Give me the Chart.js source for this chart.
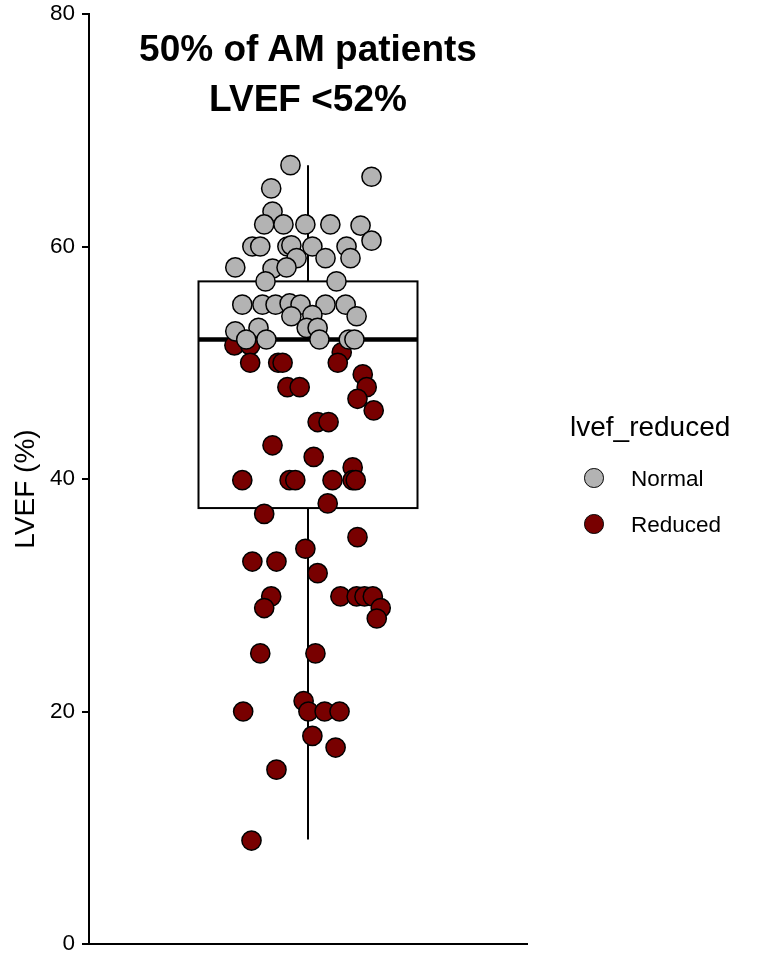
<!DOCTYPE html>
<html>
<head>
<meta charset="utf-8">
<script src="https://cdn.jsdelivr.net/npm/chart.js@4.4.1/dist/chart.umd.min.js"></script>
<style>
  html, body { margin: 0; padding: 0; background: #fff; }
  #wrap { position: relative; width: 768px; height: 960px; font-family: "Liberation Sans", Arial, sans-serif; }
  #c { position: absolute; left: 0; top: 0; }
  .title { position: absolute; left: 58px; width: 500px; text-align: center; font-weight: bold; font-size: 37px; color: #000; line-height: 1; white-space: nowrap; }
  .ytitle { position: absolute; left: -75px; top: 475px; width: 200px; height: 28px; line-height: 28px; text-align: center; font-size: 28px; color: #000; transform: rotate(-90deg); white-space: nowrap; }
  .legtitle { position: absolute; left: 570px; top: 413px; font-size: 28px; color: #000; line-height: 1; white-space: nowrap; }
  .legitem { position: absolute; left: 631px; font-size: 22.5px; color: #000; line-height: 1; white-space: nowrap; }
  .dot { position: absolute; width: 17.5px; height: 17.5px; border-radius: 50%; border: 1.5px solid #000; }
</style>
</head>
<body>
<div id="wrap">
  <canvas id="c" width="768" height="960"></canvas>
  <div class="title" style="top:29.5px;">50% of AM patients</div>
  <div class="title" style="top:79.5px;">LVEF &lt;52%</div>
  <div class="ytitle">LVEF (%)</div>
  <div class="legtitle">lvef_reduced</div>
  <div class="dot" style="left:584px; top:468px; background:#b3b3b3;"></div>
  <div class="legitem" style="top:468.3px;">Normal</div>
  <div class="dot" style="left:584px; top:514px; background:#780000;"></div>
  <div class="legitem" style="top:513.7px;">Reduced</div>
</div>
<script>
// Series: jittered x position (0..1 across the panel) and LVEF value
const normalX = [0.460,0.645,0.416,0.419,0.400,0.444,0.494,0.551,0.620,0.645,0.373,0.391,0.453,0.462,0.510,0.588,0.597,0.540,0.474,0.334,0.419,0.451,0.403,0.565,0.350,0.396,0.426,0.458,0.483,0.540,0.586,0.462,0.510,0.611,0.497,0.522,0.334,0.387,0.359,0.405,0.526,0.593,0.606];
const normalY = [67.0,66.0,65.0,63.0,61.9,61.9,61.9,61.9,61.8,60.5,60.0,60.0,60.0,60.1,60.0,60.0,59.0,59.0,59.0,58.2,58.1,58.2,57.0,57.0,55.0,55.0,55.0,55.1,55.0,55.0,55.0,54.0,54.1,54.0,53.0,53.0,52.7,53.0,52.0,52.0,52.0,52.0,52.0];
const reducedX = [0.332,0.368,0.368,0.432,0.442,0.577,0.568,0.625,0.634,0.613,0.650,0.453,0.481,0.522,0.547,0.419,0.513,0.602,0.350,0.458,0.471,0.556,0.602,0.609,0.545,0.400,0.613,0.494,0.373,0.428,0.522,0.416,0.400,0.574,0.611,0.629,0.648,0.666,0.657,0.391,0.517,0.490,0.352,0.501,0.538,0.572,0.510,0.563,0.428,0.371];
const reducedY = [51.5,51.5,50.0,50.0,50.0,50.9,50.0,49.0,47.9,46.9,45.9,47.9,47.9,44.9,44.9,42.9,41.9,41.0,39.9,39.9,39.9,39.9,39.9,39.9,37.9,37.0,35.0,34.0,32.9,32.9,31.9,29.9,28.9,29.9,29.9,29.9,29.9,28.9,28.0,25.0,25.0,20.9,20.0,20.0,20.0,20.0,17.9,16.9,15.0,8.9];
// Box plot statistics: [lower whisker, Q1, median, Q3, upper whisker]
const boxStats = [9, 37.5, 52, 57, 67];
const boxCenter = 0.5;
const boxHalfWidth = 0.25;
const yTicks = [0, 20, 40, 60, 80];

const toPts = (xs, ys) => xs.map((x, i) => ({ x: x, y: ys[i] }));

const boxPlugin = {
  id: 'boxPlot',
  beforeDatasetsDraw(chart) {
    const { ctx, scales: { x, y } } = chart;
    const [lo, q1, med, q3, hi] = boxStats;
    const xl = x.getPixelForValue(boxCenter - boxHalfWidth);
    const xr = x.getPixelForValue(boxCenter + boxHalfWidth);
    const xc = x.getPixelForValue(boxCenter);
    ctx.save();
    ctx.strokeStyle = '#000';
    ctx.lineWidth = 2;
    ctx.beginPath();
    ctx.moveTo(xc, y.getPixelForValue(hi));
    ctx.lineTo(xc, y.getPixelForValue(q3));
    ctx.moveTo(xc, y.getPixelForValue(q1));
    ctx.lineTo(xc, y.getPixelForValue(lo));
    ctx.stroke();
    ctx.fillStyle = '#fff';
    const yt = y.getPixelForValue(q3), yb = y.getPixelForValue(q1);
    ctx.fillRect(xl, yt, xr - xl, yb - yt);
    ctx.strokeRect(xl, yt, xr - xl, yb - yt);
    ctx.lineWidth = 4.5;
    ctx.beginPath();
    ctx.moveTo(xl, y.getPixelForValue(med));
    ctx.lineTo(xr, y.getPixelForValue(med));
    ctx.stroke();
    ctx.restore();
  }
};

new Chart(document.getElementById('c'), {
  type: 'scatter',
  data: {
    datasets: [
      { label: 'Normal', data: toPts(normalX, normalY), backgroundColor: '#b3b3b3', borderColor: '#000', borderWidth: 1.5, pointRadius: 9.6, pointHoverRadius: 9.6 },
      { label: 'Reduced', data: toPts(reducedX, reducedY), backgroundColor: '#780000', borderColor: '#000', borderWidth: 1.5, pointRadius: 9.6, pointHoverRadius: 9.6 }
    ]
  },
  options: {
    responsive: false,
    animation: false,
    layout: { padding: { left: 0, right: 241, top: 14, bottom: 16 } },
    plugins: { legend: { display: false }, tooltip: { enabled: false }, title: { display: false } },
    scales: {
      x: {
        type: 'linear', min: 0, max: 1,
        ticks: { display: false },
        grid: { display: false },
        border: { display: true, color: '#000', width: 2 },
        afterFit(s) { s.height = 0; }
      },
      y: {
        min: 0, max: 80,
        afterBuildTicks(s) { s.ticks = yTicks.map(v => ({ value: v })); },
        ticks: { color: '#000', padding: 7, font: { family: 'Liberation Sans', size: 22.5, lineHeight: 0.8 } },
        grid: { drawOnChartArea: false, drawTicks: true, tickLength: 7, color: '#000', lineWidth: 2 },
        border: { display: true, color: '#000', width: 2 },
        title: { display: false },
        afterFit(s) { s.width = 89; s.paddingTop = 0; s.paddingBottom = 0; }
      }
    }
  },
  plugins: [boxPlugin]
});
</script>
</body>
</html>
